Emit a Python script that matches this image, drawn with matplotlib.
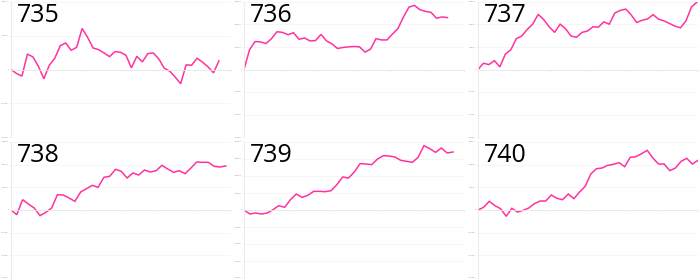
import numpy as np
from matplotlib import pyplot as plt
from matplotlib.ticker import FormatStrFormatter

# panel names
titles = ['735', '736', '737', '738', '739', '740']

# series values
s735 = [0, -1180, -1960, 4570, 3730, 980, -2750, 1270, 3330, 7060, 7840, 5690, 6570,
        12160, 9510, 6370, 5880, 4900, 3820, 5290, 5100, 4220, 490, 3920, 2250, 4710,
        4900, 3140, 390, -490, -2250, -4220, 1370, 1270, 3330, 2160, 780, -980, 2550]
s736 = [0, 8760, 12410, 12260, 11530, 13720, 16790, 16500, 15470, 16350, 13430, 14020,
        12700, 12850, 15620, 12700, 11390, 9340, 9780, 10070, 10220, 10070, 7740, 9050,
        13720, 13140, 13140, 15770, 18250, 23360, 27740, 28470, 26570, 25840, 25400,
        22770, 23360, 23070]
s737 = [0, 2770, 2190, 3940, 1170, 6860, 8760, 13720, 14890, 17810, 20150, 24530, 22190,
        18980, 16500, 20150, 18100, 14890, 14310, 16500, 17080, 18980, 18830, 21170,
        20150, 25110, 26280, 26860, 24230, 20880, 21900, 22480, 24380, 22340, 21610,
        20440, 19270, 18540, 21610, 27740, 29930]
s738 = [0, -2060, 4560, 2650, 880, -2500, -1030, 880, 6760, 6620, 5290, 3820, 7940, 9410,
        10880, 10000, 14410, 14850, 17940, 17060, 14120, 16320, 15440, 17650, 16760,
        17350, 19710, 18090, 16620, 17350, 16030, 18530, 21180, 21030, 21030, 19260,
        18970, 19410]
s739 = [0, -2350, -1760, -2350, -1760, 200, 2550, 1570, 6080, 9410, 7450, 8630, 10980,
        10980, 10780, 11370, 14900, 19410, 18820, 22350, 27250, 27060, 26670, 30000,
        31960, 31760, 31180, 29220, 28630, 28040, 30980, 37840, 36080, 33920, 36470,
        33530, 34120]
s740 = [0, 1180, 3820, 1910, 590, -2790, 740, -880, -150, 880, 2790, 3970, 3970, 6620,
        5150, 4560, 7060, 5000, 7940, 10440, 15880, 18240, 18530, 19710, 20150, 20880,
        19120, 23240, 23530, 24850, 26320, 22940, 20290, 20290, 17350, 18530, 21470,
        22790, 20290, 21910]
series = [s735, s736, s737, s738, s739, s740]

# axis ranges per panel
y_lim = [20000, 30000, 30000, 30000, 40000, 30000]
x_span = [40.2, 40.0, 40.2, 37.9, 37.9, 39.0]
x_ticks = [7, 7, 7, 7, 6, 7]

fig = plt.figure(figsize=(7, 2.79), dpi=100)
lefts = [11, 244, 478]
for i, vals in enumerate(series):
    row, col = divmod(i, 3)
    if row == 0:
        rect = [lefts[col] / 700, 1 - 137 / 279, 220 / 700, 135 / 279]
    else:
        rect = [lefts[col] / 700, 1 - 278 / 279, 220 / 700, 136 / 279]
    ax = fig.add_axes(rect)
    x = np.arange(len(vals))
    ax.plot(x, vals, color='#ff339f', lw=1.1, solid_joinstyle='miter')

    ax.set_xlim(0, x_span[i])
    ax.set_ylim(-y_lim[i], y_lim[i])
    ax.set_yticks(np.arange(-y_lim[i], y_lim[i] + 1, 10000))
    ax.set_xticks(np.linspace(0, x_span[i], x_ticks[i]))
    ax.set_xticklabels([])
    ax.yaxis.set_major_formatter(FormatStrFormatter('%d'))

    for side in ['top', 'right']:
        ax.spines[side].set_visible(False)
    ax.spines['bottom'].set_position(('data', 0))
    ax.spines['bottom'].set_color('#e8e8e8')
    ax.spines['left'].set_color('#e8e8e8')
    ax.spines['bottom'].set_linewidth(0.6)
    ax.spines['left'].set_linewidth(0.6)
    ax.tick_params(axis='both', length=1, width=0.5, color='#cccccc',
                   labelsize=1.5, labelcolor='#888888', pad=0.5)
    ax.grid(axis='y', color='#f3f3f3', lw=0.5)
    ax.set_axisbelow(True)
    ax.patch.set_alpha(0)

    ax.text(0.027, 0.995, titles[i], transform=ax.transAxes, va='top', ha='left',
            fontsize=18, family=['Open Sans', 'DejaVu Sans'])

fig.savefig('out.png', dpi=100, facecolor='white')
